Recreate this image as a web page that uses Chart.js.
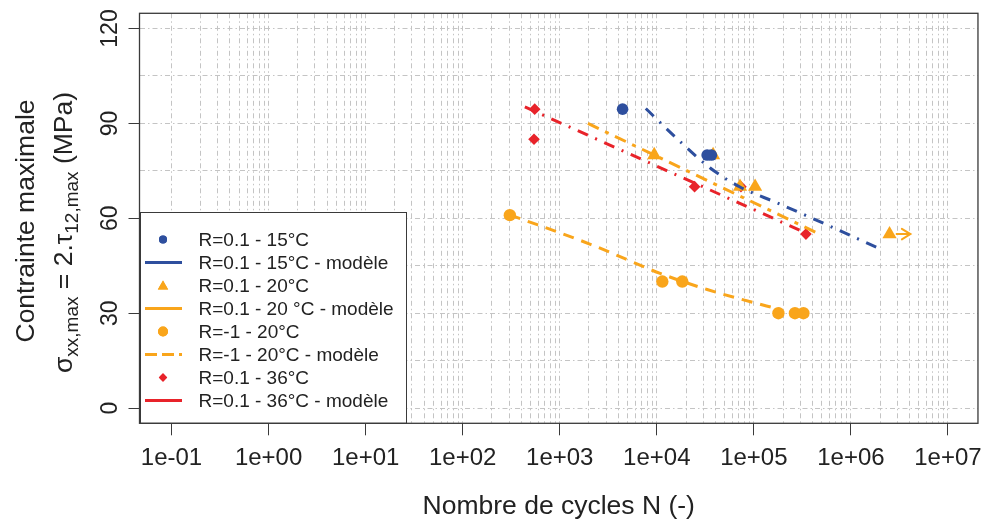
<!DOCTYPE html>
<html><head><meta charset="utf-8">
<script src="https://cdn.jsdelivr.net/npm/chart.js@4.4.1/dist/chart.umd.min.js"></script>
<style>html,body{margin:0;padding:0;background:#fff;}</style>
</head><body>
<canvas id="c" width="991" height="523"></canvas>
<script>
// ---------- data ----------
const xTickValues = [1e-1, 1e0, 1e1, 1e2, 1e3, 1e4, 1e5, 1e6, 1e7];
const xTickLabels = ['1e-01','1e+00','1e+01','1e+02','1e+03','1e+04','1e+05','1e+06','1e+07'];
const yGridValues = [0, 15, 30, 45, 60, 75, 90, 105, 120];
const yTickValues = [0, 30, 60, 90, 120];
const yTickLabels = ['0', '30', '60', '90', '120'];

const n15 = [4440, 33000, 36500];
const s15 = [94.5, 80, 80];
const n15Model = [7700, 16000, 35500, 72000, 173000, 560000, 2100000];
const s15Model = [94.7, 85.3, 75.9, 69.9, 64.9, 58, 50];

const n20 = [9400, 38000, 72000, 103000, 2500000];
const s20 = [80, 80, 70, 70, 55];
const n20Model = [1950, 475000];
const s20Model = [90, 55];
const n20Runout = [2900000, 4100000];
const s20Runout = [55, 55];

const nR1 = [306, 11400, 18300, 179000, 265000, 324000];
const sR1 = [61, 40, 40, 30, 30, 30];
const nR1Model = [306, 2100, 11000, 33000, 160000, 186000];
const sR1Model = [61.1, 51.7, 42.5, 37.5, 31.7, 31.2];

const n36 = [552, 543, 24500, 73600, 344000];
const s36 = [94.5, 85, 70, 70, 55];
const n36Model = [437, 309000];
const s36Model = [95.2, 56];

// ---------- styles ----------
const BLUE = '#2E4F9E', ORANGE = '#F9A51B', RED = '#E8232A';
const TEXT = '#222222', AXIS = '#3a3a3a', GRID = '#c4c4c4';
const FONT = '"Liberation Sans", Arial, sans-serif';

const zip = (a, b) => a.map((v, i) => ({x: v, y: b[i]}));

const datasets = [
  {label: 'R=0.1 - 15°C', data: zip(n15, s15), showLine: false, pointStyle: 'circle', pointRadius: 5.8,
   backgroundColor: BLUE, borderColor: BLUE, borderWidth: 0, order: 2, leg: {type: 'point', r: 4}},
  {label: 'R=0.1 - 15°C - modèle', data: zip(n15Model, s15Model), showLine: true, pointRadius: 0,
   borderColor: BLUE, borderWidth: 3, borderDash: [11, 8, 2, 8], cubicInterpolationMode: 'monotone', order: 1, leg: {type: 'line', dash: []}},
  {label: 'R=0.1 - 20°C', data: zip(n20, s20), showLine: false, pointStyle: 'triangle', pointRadius: 8.2,
   backgroundColor: ORANGE, borderColor: ORANGE, borderWidth: 0, order: 2, leg: {type: 'point', r: 6}},
  {label: 'R=0.1 - 20 °C - modèle', data: zip(n20Model, s20Model), showLine: true, pointRadius: 0,
   borderColor: ORANGE, borderWidth: 3, borderDash: [12, 7, 4, 7], order: 1, leg: {type: 'line', dash: []}},
  {label: 'R=-1 - 20°C', data: zip(nR1, sR1), showLine: false, pointStyle: 'circle', pointRadius: 6.2,
   backgroundColor: ORANGE, borderColor: ORANGE, borderWidth: 0, order: 2, leg: {type: 'point', r: 5}},
  {label: 'R=-1 - 20°C - modèle', data: zip(nR1Model, sR1Model), showLine: true, pointRadius: 0,
   borderColor: ORANGE, borderWidth: 3, borderDash: [11, 8], cubicInterpolationMode: 'monotone', order: 1, leg: {type: 'line', dash: [12, 5]}},
  {label: 'R=0.1 - 36°C', data: zip(n36, s36), showLine: false, pointStyle: 'rectRot', pointRadius: 5.8,
   backgroundColor: RED, borderColor: RED, borderWidth: 0, order: 2, leg: {type: 'point', r: 4.2, style: 'rectRot'}},
  {label: 'R=0.1 - 36°C - modèle', data: zip(n36Model, s36Model), showLine: true, pointRadius: 0,
   borderColor: RED, borderWidth: 3, borderDash: [11, 8, 2, 8], order: 1, leg: {type: 'line', dash: []}},
  {label: 'runout', data: zip(n20Runout, s20Runout), showLine: true, pointRadius: 0,
   borderColor: ORANGE, borderWidth: 2, order: 1, runout: true}
];

const isMajorX = v => xTickValues.some(t => Math.abs(Math.log10(t) - Math.log10(v)) < 1e-6);

const deco = {
  id: 'deco',
  afterDatasetsDraw(chart) {
    const ctx = chart.ctx, a = chart.chartArea;
    // arrowhead of runout
    chart.data.datasets.forEach((ds, i) => {
      if (!ds.runout) return;
      const m = chart.getDatasetMeta(i).data;
      const p = m[m.length - 1], q = m[m.length - 2];
      const ang = Math.atan2(p.y - q.y, p.x - q.x);
      ctx.save();
      ctx.strokeStyle = ds.borderColor; ctx.lineWidth = 2; ctx.lineCap = 'round';
      ctx.beginPath();
      ctx.moveTo(p.x - 10 * Math.cos(ang - 0.55), p.y - 10 * Math.sin(ang - 0.55));
      ctx.lineTo(p.x, p.y);
      ctx.lineTo(p.x - 10 * Math.cos(ang + 0.55), p.y - 10 * Math.sin(ang + 0.55));
      ctx.stroke();
      ctx.restore();
    });
    // legend
    const L = 140.5, T = 212.5, R = 406.5, B = a.bottom;
    ctx.save();
    ctx.fillStyle = '#fff';
    ctx.fillRect(L, T, R - L, B - T);
    ctx.strokeStyle = AXIS; ctx.lineWidth = 1;
    ctx.strokeRect(L, T, R - L, B - T);
    let row = 0;
    chart.data.datasets.forEach(ds => {
      if (!ds.leg) return;
      const yy = 239.5 + row * 23;
      if (ds.leg.type === 'line') {
        ctx.save();
        ctx.strokeStyle = ds.borderColor; ctx.lineWidth = 3; ctx.setLineDash(ds.leg.dash);
        ctx.beginPath(); ctx.moveTo(145, yy); ctx.lineTo(182, yy); ctx.stroke();
        ctx.restore();
      } else {
        ctx.fillStyle = ds.backgroundColor;
        ctx.beginPath();
        Chart.helpers.drawPoint(ctx, {pointStyle: ds.leg.style || ds.pointStyle, radius: ds.leg.r, borderWidth: 0, rotation: 0},
          163, yy + (ds.pointStyle === 'triangle' ? 1 : 0));
        ctx.fill();
      }
      ctx.fillStyle = TEXT; ctx.font = '19px ' + FONT;
      ctx.textAlign = 'left'; ctx.textBaseline = 'middle';
      ctx.fillText(ds.label, 198.5, yy + 1);
      row++;
    });
    ctx.restore();
  },
  afterDraw(chart) {
    const ctx = chart.ctx, a = chart.chartArea, ys = chart.scales.y;
    ctx.save();
    ctx.strokeStyle = AXIS; ctx.lineWidth = 1.3;
    ctx.strokeRect(a.left, a.top, a.right - a.left, a.bottom - a.top);
    // y tick labels (rotated like R)
    ctx.fillStyle = TEXT; ctx.font = '23px ' + FONT;
    ctx.textAlign = 'center'; ctx.textBaseline = 'alphabetic';
    yTickValues.forEach((v, i) => {
      const py = ys.getPixelForValue(v);
      ctx.save(); ctx.translate(116.5, py); ctx.rotate(-Math.PI / 2);
      ctx.fillText(yTickLabels[i], 0, 0); ctx.restore();
    });
    // y title line 1
    ctx.save(); ctx.translate(34, 221); ctx.rotate(-Math.PI / 2);
    ctx.font = '26.5px ' + FONT; ctx.textAlign = 'center'; ctx.textBaseline = 'alphabetic';
    ctx.fillText('Contrainte maximale', 0, 0); ctx.restore();
    // y title line 2 with subscripts
    const segs = [
      {t: 'σ', s: 26.5, d: 0}, {t: 'xx,max', s: 19, d: 6}, {t: ' = 2.', s: 26.5, d: 0},
      {t: 'τ', s: 26.5, d: 0}, {t: '12,max', s: 19, d: 6}, {t: ' (MPa)', s: 26.5, d: 0}
    ];
    let w = 0;
    segs.forEach(g => { ctx.font = g.s + 'px ' + FONT; g.w = ctx.measureText(g.t).width; w += g.w; });
    ctx.save(); ctx.translate(72, 232.5); ctx.rotate(-Math.PI / 2);
    ctx.textAlign = 'left'; ctx.textBaseline = 'alphabetic';
    let x0 = -w / 2;
    segs.forEach(g => { ctx.font = g.s + 'px ' + FONT; ctx.fillText(g.t, x0, g.d); x0 += g.w; });
    ctx.restore();
    ctx.restore();
  }
};

new Chart(document.getElementById('c'), {
  type: 'scatter',
  data: {datasets},
  options: {
    responsive: false, animation: false, devicePixelRatio: 1,
    layout: {padding: {top: 13.3, right: 9, left: 0, bottom: 0}},
    plugins: {legend: {display: false}, tooltip: {enabled: false}},
    scales: {
      x: {
        type: 'logarithmic', min: Math.pow(10, -1.33), max: Math.pow(10, 7.309),
        afterBuildTicks: s => {
          const t = [];
          xTickValues.forEach((b, d) => {
            t.push({value: b});
            if (d < xTickValues.length - 1) for (let m = 2; m <= 9; m++) t.push({value: b * m});
          });
          s.ticks = t;
        },
        afterFit: s => { s.height = 99.7; },
        border: {display: false, dash: [5, 3, 1.5, 3]},
        grid: {color: GRID, lineWidth: 1, drawTicks: true, tickLength: 12,
               tickWidth: 1, tickBorderDash: [], tickColor: c => (c.tick && isMajorX(c.tick.value)) ? AXIS : 'rgba(0,0,0,0)'},
        ticks: {autoSkip: false, maxRotation: 0, minRotation: 0, padding: 9, color: TEXT,
                font: {size: 24, family: FONT},
                callback: v => { const i = xTickValues.findIndex(t => Math.abs(Math.log10(t) - Math.log10(v)) < 1e-6); return i >= 0 ? xTickLabels[i] : ''; }},
        title: {display: true, text: 'Nombre de cycles N (-)', color: TEXT, font: {size: 26.5, family: FONT}, padding: {top: 0, bottom: 0}}
      },
      y: {
        type: 'linear', min: -4.8, max: 124.8,
        afterBuildTicks: s => { s.ticks = yGridValues.map(v => ({value: v})); },
        afterFit: s => { s.width = 139.5; },
        border: {display: false, dash: [5, 3, 1.5, 3]},
        grid: {color: GRID, lineWidth: 1, drawTicks: true, tickLength: 11,
               tickWidth: 1, tickBorderDash: [], tickColor: c => (c.tick && yTickValues.includes(c.tick.value)) ? AXIS : 'rgba(0,0,0,0)'},
        ticks: {display: false}
      }
    }
  },
  plugins: [deco]
});
</script>
</body></html>
